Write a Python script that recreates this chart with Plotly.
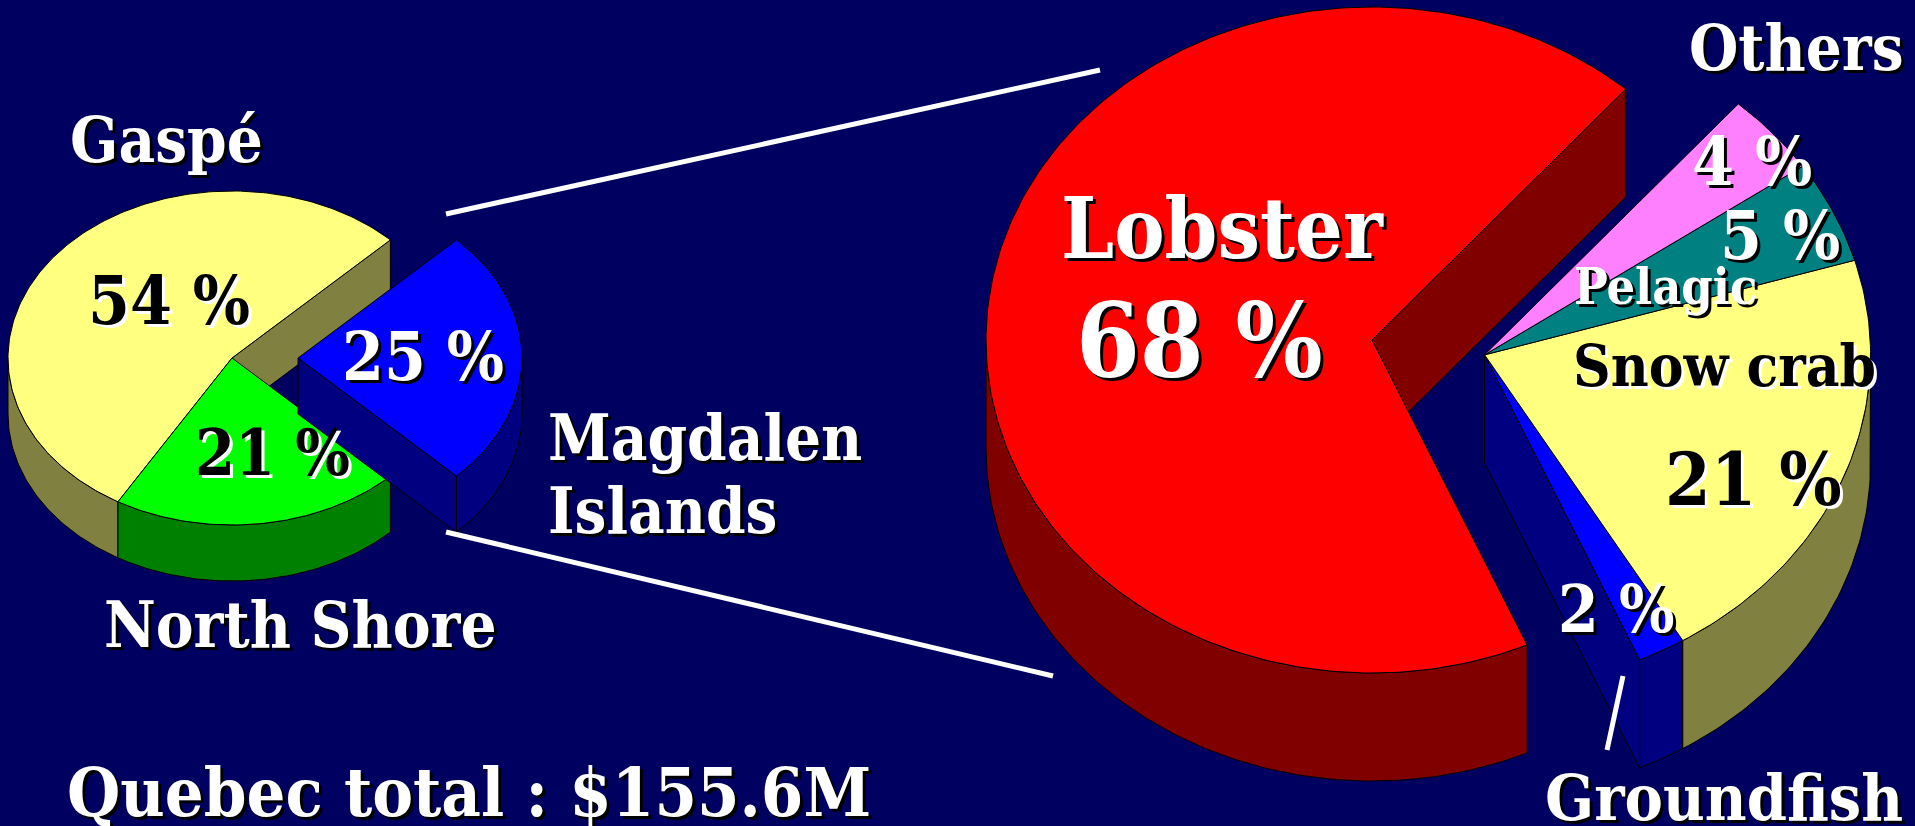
import numpy as np
import plotly.graph_objects as go

# ---------------- data ----------------
region_labels = ["Gaspé", "North Shore", "Magdalen Islands"]
region_pct = [54, 21, 25]
region_exploded = [0, 0, 1]

species_labels = ["Lobster", "Groundfish", "Snow crab", "Pelagic", "Others"]
species_pct = [68, 2, 21, 5, 4]
species_exploded = [0, 1, 1, 1, 1]

total_label = "Quebec total : $155.6M"

# ---------------- styles ----------------
BG = "#000060"
region_top = ["#FFFF80", "#00FF00", "#0000FF"]
region_side = ["#808040", "#008000", "#000080"]
species_top = ["#FF0000", "#0000FF", "#FFFF80", "#008080", "#FF80FF"]
species_side = ["#800000", "#000080", "#808040", "#004040", "#804080"]

W, H = 1915, 826
LEFT_GEOM = dict(cx=232, cy=358, rx=224, ry=167, depth=56, start=45.0, explode=0.295)
RIGHT_GEOM = dict(cx=1372, cy=340, rx=386, ry=333, depth=108, start=48.9, explode=0.295)


def poly(xs, ys, color, name):
    return go.Scatter(x=list(xs), y=list(ys), mode="lines", fill="toself",
                      fillcolor=color, line=dict(color="black", width=1),
                      hoverinfo="skip", showlegend=False, name=name)


def pie3d(pcts, exploded, tops, sides, names, g):
    cx, cy, rx, ry, d = g["cx"], g["cy"], g["rx"], g["ry"], g["depth"]
    cum = np.concatenate([[0], np.cumsum(pcts)]) * 3.6 + g["start"]
    a0s, a1s = cum[:-1], cum[1:]
    traces = []
    for flag in (0, 1):
        idx = [i for i in range(len(pcts)) if exploded[i] == flag]
        if not idx:
            continue
        ga0, ga1 = a0s[idx[0]], a1s[idx[-1]]
        m = np.radians((ga0 + ga1) / 2)
        e = g["explode"] if flag else 0.0
        ox, oy = e * rx * np.cos(m), -e * ry * np.sin(m)
        ax, ay = cx + ox, cy + oy

        def rim(t, z=0.0):
            t = np.radians(t)
            return ax + rx * np.cos(t), ay - ry * np.sin(t) + z

        def cut(a, col, nm):
            x1, y1 = rim(a)
            traces.append(poly([ax, x1, x1, ax, ax], [ay, y1, y1 + d, ay + d, ay], col, nm))

        if np.cos(np.radians(ga0)) > 0:
            cut(ga0, sides[idx[0]], names[idx[0]])
        if np.cos(np.radians(ga1)) < 0:
            cut(ga1, sides[idx[-1]], names[idx[-1]])
        # outer walls (front half only)
        for i in idx:
            for k in range(-1, 3):
                lo = max(a0s[i], 180 + 360 * k)
                hi = min(a1s[i], 360 + 360 * k)
                if hi > lo:
                    t = np.linspace(lo, hi, int(hi - lo) + 2)
                    xt, yt = rim(t)
                    xb, yb = rim(t[::-1], d)
                    xs = np.concatenate([xt, xb, xt[:1]])
                    ys = np.concatenate([yt, yb, yt[:1]])
                    traces.append(poly(xs, ys, sides[i], names[i]))
        # top faces
        for i in idx:
            t = np.linspace(a0s[i], a1s[i], int(a1s[i] - a0s[i]) + 2)
            xt, yt = rim(t)
            xs = np.concatenate([[ax], xt, [ax]])
            ys = np.concatenate([[ay], yt, [ay]])
            traces.append(poly(xs, ys, tops[i], names[i]))
    return traces


fig = go.Figure()
for tr in pie3d(region_pct, region_exploded, region_top, region_side, region_labels, LEFT_GEOM):
    fig.add_trace(tr)
for tr in pie3d(species_pct, species_exploded, species_top, species_side, species_labels, RIGHT_GEOM):
    fig.add_trace(tr)

FONT = "DejaVu Serif Condensed, DejaVu Serif"
W_SH = "3px 3px 0px #000000"
B_SH = "3px 3px 0px #FFFFFF"


def label(text, x, y, size, color="white", shadow=W_SH, xanchor="center", align="center"):
    fig.add_annotation(x=x, y=y, xref="x", yref="y", text="<b>" + text + "</b>",
                       showarrow=False, xanchor=xanchor, yanchor="middle", align=align,
                       font=dict(family=FONT, size=size, color=color, shadow=shadow))


# region labels
label(region_labels[0], 166, 140, 63)
label(f"{region_pct[0]} %", 169, 300, 67, "black", B_SH)
label(f"{region_pct[2]} %", 423, 356, 67)
label(f"{region_pct[1]} %", 272, 452, 64, "black", B_SH)
mag_words = region_labels[2].split(" ")
label(mag_words[0], 546, 438, 63, xanchor="left")
label(mag_words[1], 546, 511, 63, xanchor="left")
label(region_labels[1], 300, 625, 63)
label(total_label, 469, 792, 68)

# species labels
label(species_labels[0], 1222, 228, 84)
label(f"{species_pct[0]} %", 1199, 341, 102)
label(species_labels[4], 1796, 48, 63)
label(f"{species_pct[4]} %", 1752, 161, 67)
label(f"{species_pct[3]} %", 1780, 235, 67)
label(species_labels[3], 1665, 286, 50)
label(species_labels[2], 1724, 366, 58, "black", B_SH)
label(f"{species_pct[2]} %", 1753, 479, 73, "black", B_SH)
label(f"{species_pct[1]} %", 1616, 609, 65)
label(species_labels[1], 1543, 797, 64, xanchor="left")

# connector lines
connectors = [((446, 214), (1100, 70)), ((446, 532), (1053, 676)), ((1623, 676), (1607, 750))]
for (x0, y0), (x1, y1) in connectors:
    fig.add_shape(type="line", x0=x0, y0=y0, x1=x1, y1=y1, xref="x", yref="y",
                  line=dict(color="white", width=5))

fig.update_layout(
    width=W, height=H, margin=dict(l=0, r=0, t=0, b=0),
    paper_bgcolor=BG, plot_bgcolor=BG, showlegend=False,
    xaxis=dict(range=[0, W], visible=False, fixedrange=True),
    yaxis=dict(range=[H, 0], visible=False, fixedrange=True),
)

fig.write_html("out.html", config={"displayModeBar": False},
               post_script="document.body.style.margin='0';document.body.style.overflow='hidden';")
